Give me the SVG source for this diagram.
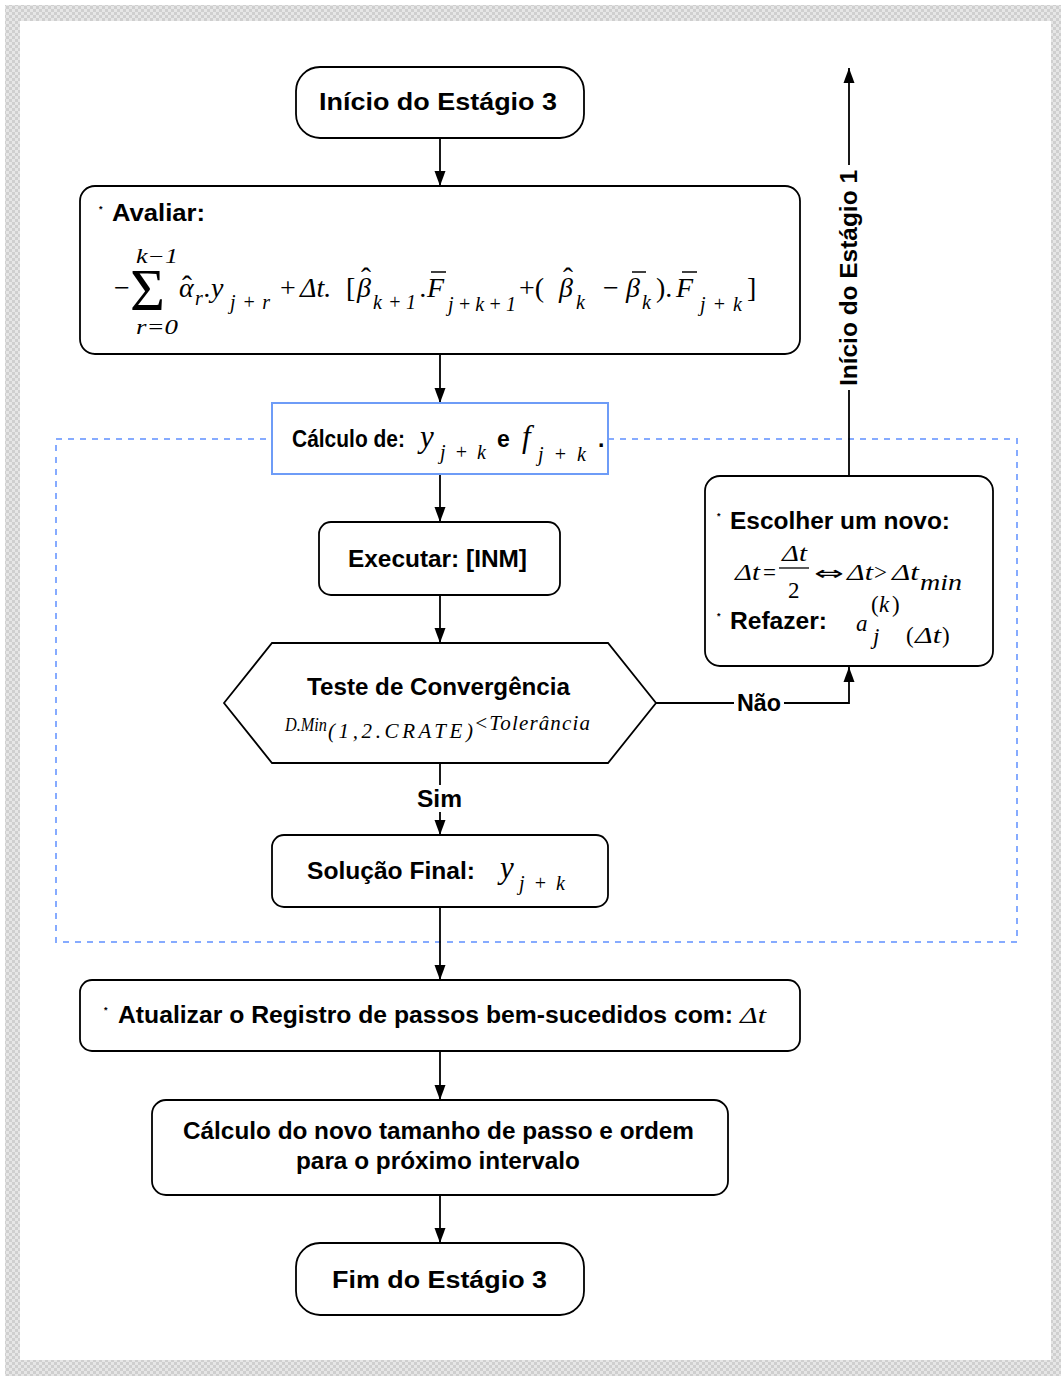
<svg xmlns="http://www.w3.org/2000/svg" width="1061" height="1376" viewBox="0 0 1061 1376">
<style>
.box{fill:#fff;stroke:#000;stroke-width:1.8}
.blue{fill:#fff;stroke:#6e9cf7;stroke-width:2}
.dash{fill:none;stroke:#86abff;stroke-width:2;stroke-dasharray:6 6}
.ln{fill:none;stroke:#000;stroke-width:1.8}
.lb{font-family:"Liberation Sans",Arial,sans-serif;font-weight:bold;font-size:23px;fill:#000}
.st{font-family:"Liberation Sans",Arial,sans-serif;font-weight:bold;font-size:9px;fill:#000}
.m{font-family:"Liberation Serif","Times New Roman",serif;font-style:italic;font-size:28px;fill:#000}
.mu{font-family:"Liberation Serif","Times New Roman",serif;font-size:28px;fill:#000}
.s{font-family:"Liberation Serif","Times New Roman",serif;font-style:italic;font-size:20px;fill:#000}
.sub{font-size:20px}
.m2{font-family:"Liberation Serif","Times New Roman",serif;font-style:italic;font-size:23px;fill:#000}
.mu2{font-family:"Liberation Serif","Times New Roman",serif;font-size:23px;fill:#000}
.hat{font-style:normal;font-size:30px}
.bar{stroke:#000;stroke-width:1.5}
</style>
<defs>
<pattern id="chk" width="6" height="6" patternUnits="userSpaceOnUse">
<rect width="6" height="6" fill="#e6e6e6"/>
<rect width="3" height="3" fill="#cfcfcf"/>
<rect x="3" y="3" width="3" height="3" fill="#cfcfcf"/>
</pattern>
<marker id="ah" markerUnits="userSpaceOnUse" markerWidth="16" markerHeight="12" refX="15" refY="6" orient="auto">
<path d="M0,0.5 L15,6 L0,11.5 z" fill="#000"/>
</marker>
</defs>

<rect x="5" y="5" width="1056" height="1371" fill="url(#chk)"/>
<rect x="20" y="21" width="1031" height="1339" fill="#fff"/>

<rect class="dash" x="56" y="439" width="961" height="503"/>

<g id="connectors">
<line class="ln" x1="440" y1="138" x2="440" y2="186" marker-end="url(#ah)"/>
<line class="ln" x1="440" y1="354" x2="440" y2="403" marker-end="url(#ah)"/>
<line class="ln" x1="440" y1="474" x2="440" y2="522" marker-end="url(#ah)"/>
<line class="ln" x1="440" y1="595" x2="440" y2="643" marker-end="url(#ah)"/>
<line class="ln" x1="440" y1="763" x2="440" y2="785"/>
<line class="ln" x1="440" y1="812" x2="440" y2="835" marker-end="url(#ah)"/>
<line class="ln" x1="440" y1="907" x2="440" y2="980" marker-end="url(#ah)"/>
<line class="ln" x1="440" y1="1051" x2="440" y2="1100" marker-end="url(#ah)"/>
<line class="ln" x1="440" y1="1195" x2="440" y2="1243" marker-end="url(#ah)"/>
<polyline class="ln" points="656,703 734,703"/>
<polyline class="ln" points="784,703 849,703 849,667" marker-end="url(#ah)"/>
<line class="ln" x1="849" y1="476" x2="849" y2="390"/>
<line class="ln" x1="849" y1="165" x2="849" y2="68" marker-end="url(#ah)"/>
<text class="lb" x="737" y="711" textLength="44" lengthAdjust="spacingAndGlyphs">Não</text>
<text class="lb" x="417" y="807" textLength="45" lengthAdjust="spacingAndGlyphs">Sim</text>
<text class="lb" transform="translate(857,386) rotate(-90)" x="0" y="0" textLength="216" lengthAdjust="spacingAndGlyphs">Início do Estágio 1</text>
</g>

<g id="start">
<rect class="box" x="296" y="67" width="288" height="71" rx="24"/>
<text class="lb" x="319" y="110" textLength="238" lengthAdjust="spacingAndGlyphs">Início do Estágio 3</text>
</g>

<g id="avaliar">
<rect class="box" x="80" y="186" width="720" height="168" rx="15"/>
<text class="st" x="99" y="212">*</text>
<text class="lb" x="112" y="221" textLength="93" lengthAdjust="spacingAndGlyphs">Avaliar:</text>
<text class="mu" x="114" y="297">−</text>
<text class="mu" x="130" y="310" style="font-size:60px">Σ</text>
<text class="s" x="136" y="263" textLength="42" lengthAdjust="spacingAndGlyphs">k−1</text>
<text class="s" x="136" y="334" textLength="42" lengthAdjust="spacingAndGlyphs">r=0</text>
<text class="m" x="179" y="297">α<tspan class="hat" x="182" y="296">ˆ</tspan><tspan class="sub" x="195" y="305">r</tspan><tspan x="204" y="297">.y</tspan></text>
<text class="s" x="230" y="309" textLength="40" lengthAdjust="spacing">j+r</text>
<text class="mu" x="280" y="297">+</text>
<text class="m" x="300" y="297">Δt.</text>
<text class="mu" x="346" y="297">[</text>
<text class="m" x="357" y="297">β<tspan class="hat" x="361" y="288">ˆ</tspan><tspan class="sub" x="373" y="309" dx="0">k</tspan><tspan class="sub" x="388" y="309">+</tspan><tspan class="sub" x="406" y="309">1</tspan></text>
<text class="m" x="420" y="297">.F</text>
<line class="bar" x1="431" y1="272" x2="446" y2="272"/>
<text class="s" x="448" y="311" textLength="68" lengthAdjust="spacing">j+k+1</text>
<text class="mu" x="519" y="297">+(</text>
<text class="m" x="559" y="297">β<tspan class="hat" x="563" y="288">ˆ</tspan><tspan class="sub" x="576" y="309">k</tspan></text>
<text class="mu" x="603" y="297">−</text>
<text class="m" x="626" y="297">β<tspan class="sub" x="642" y="309">k</tspan></text>
<line class="bar" x1="632" y1="272" x2="646" y2="272"/>
<text class="mu" x="656" y="297">).</text>
<text class="m" x="676" y="297">F</text>
<line class="bar" x1="682" y1="272" x2="697" y2="272"/>
<text class="s" x="700" y="311" textLength="42" lengthAdjust="spacing">j+k</text>
<text class="mu" x="747" y="297">]</text>
</g>

<g id="calculo">
<rect class="blue" x="272" y="403" width="336" height="71"/>
<text class="lb" x="292" y="447" textLength="113" lengthAdjust="spacingAndGlyphs">Cálculo de:</text>
<text class="m" x="420" y="447" style="font-size:31px">y</text>
<text class="s" x="440" y="459" textLength="46" lengthAdjust="spacing">j+k</text>
<text class="lb" x="497" y="447">e</text>
<text class="m" x="522" y="447" style="font-size:31px">f</text>
<text class="s" x="538" y="461" textLength="48" lengthAdjust="spacing">j+k</text>
<text class="lb" x="598" y="447">.</text>
</g>

<g id="executar">
<rect class="box" x="319" y="522" width="241" height="73" rx="12"/>
<text class="lb" x="348" y="567" textLength="179" lengthAdjust="spacingAndGlyphs">Executar: [INM]</text>
</g>

<g id="teste">
<polygon class="box" points="224,703 272,643 608,643 656,703 608,763 272,763"/>
<text class="lb" x="307" y="695" textLength="263" lengthAdjust="spacingAndGlyphs">Teste de Convergência</text>
<text class="m2" x="285" y="731" style="font-size:19px" textLength="42" lengthAdjust="spacingAndGlyphs">D.Min</text>
<text class="m2" x="328" y="738" style="font-size:21px" textLength="145" lengthAdjust="spacing">(1,2.CRATE)</text>
<text class="m2" x="474" y="730" style="font-size:21px" textLength="116" lengthAdjust="spacing">&lt;Tolerância</text>
</g>

<g id="solucao">
<rect class="box" x="272" y="835" width="336" height="72" rx="12"/>
<text class="lb" x="307" y="879" textLength="168" lengthAdjust="spacingAndGlyphs">Solução Final:</text>
<text class="m" x="500" y="878" style="font-size:31px">y</text>
<text class="s" x="519" y="890" textLength="46" lengthAdjust="spacing">j+k</text>
</g>

<g id="escolher">
<rect class="box" x="705" y="476" width="288" height="190" rx="15"/>
<text class="st" x="717" y="519">*</text>
<text class="lb" x="730" y="529" textLength="220" lengthAdjust="spacingAndGlyphs">Escolher um novo:</text>
<text class="m2" x="735" y="580" textLength="25" lengthAdjust="spacingAndGlyphs">Δt</text>
<text class="mu2" x="763" y="580">=</text>
<text class="m2" x="782" y="561" textLength="25" lengthAdjust="spacingAndGlyphs">Δt</text>
<line x1="779" y1="568" x2="809" y2="568" stroke="#000" stroke-width="1.3"/>
<text class="mu2" x="788" y="598">2</text>
<text x="814" y="580" style="font-family:'DejaVu Sans',sans-serif;font-size:20px" textLength="30" lengthAdjust="spacingAndGlyphs">⇔</text>
<text class="m2" x="847" y="580" textLength="26" lengthAdjust="spacingAndGlyphs">Δt</text>
<text class="mu2" x="874" y="580">&gt;</text>
<text class="m2" x="892" y="580" textLength="27" lengthAdjust="spacingAndGlyphs">Δt</text>
<text class="m2" x="920" y="590" textLength="42" lengthAdjust="spacingAndGlyphs">min</text>
<text class="st" x="717" y="619">*</text>
<text class="lb" x="730" y="629" textLength="97" lengthAdjust="spacingAndGlyphs">Refazer:</text>
<text class="m2" x="856" y="631">a</text>
<text class="mu2" x="871" y="612">(</text>
<text class="m2" x="879" y="612">k</text>
<text class="mu2" x="892" y="612">)</text>
<text class="m2" x="873" y="644">j</text>
<text class="mu2" x="906" y="643">(</text>
<text class="m2" x="915" y="643" textLength="26" lengthAdjust="spacingAndGlyphs">Δt</text>
<text class="mu2" x="942" y="643">)</text>
</g>

<g id="atualizar">
<rect class="box" x="80" y="980" width="720" height="71" rx="12"/>
<text class="st" x="104" y="1013">*</text>
<text class="lb" x="118" y="1023" textLength="615" lengthAdjust="spacingAndGlyphs">Atualizar o Registro de passos bem-sucedidos com:</text>
<text class="m2" x="740" y="1023" textLength="26" lengthAdjust="spacingAndGlyphs">Δt</text>
</g>

<g id="novo">
<rect class="box" x="152" y="1100" width="576" height="95" rx="14"/>
<text class="lb" x="183" y="1139" textLength="511" lengthAdjust="spacingAndGlyphs">Cálculo do novo tamanho de passo e ordem</text>
<text class="lb" x="296" y="1169" textLength="284" lengthAdjust="spacingAndGlyphs">para o próximo intervalo</text>
</g>

<g id="fim">
<rect class="box" x="296" y="1243" width="288" height="72" rx="24"/>
<text class="lb" x="332" y="1288" textLength="215" lengthAdjust="spacingAndGlyphs">Fim do Estágio 3</text>
</g>
</svg>
